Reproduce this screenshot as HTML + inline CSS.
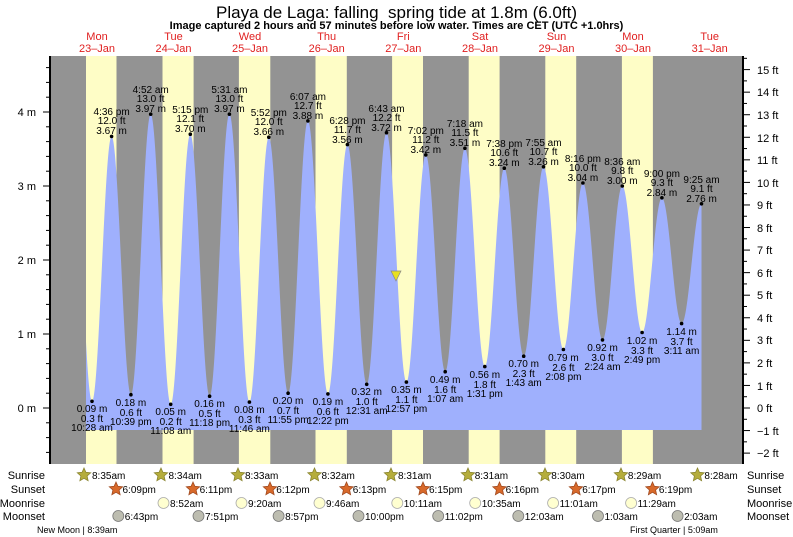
<!DOCTYPE html>
<html><head><meta charset="utf-8"><style>
html,body{margin:0;padding:0;background:#fff;}
svg{display:block;font-family:"Liberation Sans",sans-serif;}
</style></head><body>
<svg id="s" width="793" height="537" viewBox="0 0 793 537" xmlns="http://www.w3.org/2000/svg">
<rect x="0" y="0" width="793" height="537" fill="#fff"/>
<rect x="50" y="56" width="693" height="408" fill="#939393"/>
<g fill="#fefdc6">
<rect x="86" y="56" width="30.5" height="408"/>
<rect x="162.5" y="56" width="31.1" height="408"/>
<rect x="238.9" y="56" width="31.4" height="408"/>
<rect x="315.5" y="56" width="31.3" height="408"/>
<rect x="392.1" y="56" width="30.9" height="408"/>
<rect x="468.7" y="56" width="30.9" height="408"/>
<rect x="545.3" y="56" width="30.9" height="408"/>
<rect x="621.9" y="56" width="31" height="408"/>
</g>
<path id="tide" fill="#9fb0fd" d=""/>
<g id="dots" fill="#000"></g>
<g id="ticks" stroke="#000" stroke-width="1"></g>
<line x1="50" y1="56" x2="50" y2="464" stroke="#000" stroke-width="2"/>
<line x1="743" y1="56" x2="743" y2="464" stroke="#000" stroke-width="2"/>
<polygon points="391,271 401,271 396,281" fill="#e8e020" stroke="#888" stroke-width="0.7"/>

<text x="396.5" y="18" font-size="17" text-anchor="middle" fill="#000" xml:space="preserve" style="white-space:pre">Playa de Laga: falling  spring tide at 1.8m (6.0ft)</text>
<text x="396.5" y="29" font-size="11" font-weight="bold" text-anchor="middle" fill="#000">Image captured 2 hours and 57 minutes before low water. Times are CET (UTC +1.0hrs)</text>

<g font-size="11" fill="#e02020" text-anchor="middle">
<text x="97" y="40">Mon</text><text x="97" y="52">23–Jan</text>
<text x="173.5" y="40">Tue</text><text x="173.5" y="52">24–Jan</text>
<text x="250" y="40">Wed</text><text x="250" y="52">25–Jan</text>
<text x="326.7" y="40">Thu</text><text x="326.7" y="52">26–Jan</text>
<text x="403.3" y="40">Fri</text><text x="403.3" y="52">27–Jan</text>
<text x="480" y="40">Sat</text><text x="480" y="52">28–Jan</text>
<text x="556.5" y="40">Sun</text><text x="556.5" y="52">29–Jan</text>
<text x="633" y="40">Mon</text><text x="633" y="52">30–Jan</text>
<text x="709.7" y="40">Tue</text><text x="709.7" y="52">31–Jan</text>
</g>

<g font-size="11" fill="#000" text-anchor="end">
<text x="36" y="412">0 m</text><text x="36" y="338">1 m</text><text x="36" y="264">2 m</text><text x="36" y="190">3 m</text><text x="36" y="116">4 m</text>
</g>
<g font-size="11" fill="#000" text-anchor="start">
<text x="757" y="457">−2 ft</text><text x="757" y="435">−1 ft</text><text x="757" y="412">0 ft</text>
<text x="757" y="390">1 ft</text><text x="757" y="367">2 ft</text><text x="757" y="344">3 ft</text>
<text x="757" y="322">4 ft</text><text x="757" y="299">5 ft</text><text x="757" y="277">6 ft</text>
<text x="757" y="254">7 ft</text><text x="757" y="232">8 ft</text><text x="757" y="209">9 ft</text>
<text x="757" y="187">10 ft</text><text x="757" y="164">11 ft</text><text x="757" y="142">12 ft</text>
<text x="757" y="119">13 ft</text><text x="757" y="96">14 ft</text><text x="757" y="74">15 ft</text>
</g>

<g font-size="10" fill="#000" text-anchor="middle">
<text x="111.6" y="115">4:36 pm</text><text x="111.6" y="124">12.0 ft</text><text x="111.6" y="134">3.67 m</text>
<text x="150.7" y="93">4:52 am</text><text x="150.7" y="102">13.0 ft</text><text x="150.7" y="112">3.97 m</text>
<text x="190.3" y="113">5:15 pm</text><text x="190.3" y="122">12.1 ft</text><text x="190.3" y="132">3.70 m</text>
<text x="229.4" y="93">5:31 am</text><text x="229.4" y="102">13.0 ft</text><text x="229.4" y="112">3.97 m</text>
<text x="268.8" y="116">5:52 pm</text><text x="268.8" y="125">12.0 ft</text><text x="268.8" y="135">3.66 m</text>
<text x="307.9" y="100">6:07 am</text><text x="307.9" y="109">12.7 ft</text><text x="307.9" y="119">3.88 m</text>
<text x="347.4" y="124">6:28 pm</text><text x="347.4" y="133">11.7 ft</text><text x="347.4" y="143">3.56 m</text>
<text x="386.5" y="112">6:43 am</text><text x="386.5" y="121">12.2 ft</text><text x="386.5" y="131">3.72 m</text>
<text x="425.8" y="134">7:02 pm</text><text x="425.8" y="143">11.2 ft</text><text x="425.8" y="153">3.42 m</text>
<text x="464.9" y="127">7:18 am</text><text x="464.9" y="136">11.5 ft</text><text x="464.9" y="146">3.51 m</text>
<text x="504.3" y="147">7:38 pm</text><text x="504.3" y="156">10.6 ft</text><text x="504.3" y="166">3.24 m</text>
<text x="543.5" y="146">7:55 am</text><text x="543.5" y="155">10.7 ft</text><text x="543.5" y="165">3.26 m</text>
<text x="582.9" y="162">8:16 pm</text><text x="582.9" y="171">10.0 ft</text><text x="582.9" y="181">3.04 m</text>
<text x="622.3" y="165">8:36 am</text><text x="622.3" y="174">9.8 ft</text><text x="622.3" y="184">3.00 m</text>
<text x="661.9" y="177">9:00 pm</text><text x="661.9" y="186">9.3 ft</text><text x="661.9" y="196">2.84 m</text>
<text x="701.5" y="183">9:25 am</text><text x="701.5" y="192">9.1 ft</text><text x="701.5" y="202">2.76 m</text>
<text x="92" y="412">0.09 m</text><text x="92" y="422">0.3 ft</text><text x="92" y="431">10:28 am</text>
<text x="130.9" y="406">0.18 m</text><text x="130.9" y="416">0.6 ft</text><text x="130.9" y="425">10:39 pm</text>
<text x="170.7" y="415">0.05 m</text><text x="170.7" y="425">0.2 ft</text><text x="170.7" y="434">11:08 am</text>
<text x="209.6" y="407">0.16 m</text><text x="209.6" y="417">0.5 ft</text><text x="209.6" y="426">11:18 pm</text>
<text x="249.4" y="413">0.08 m</text><text x="249.4" y="423">0.3 ft</text><text x="249.4" y="432">11:46 am</text>
<text x="288.1" y="404">0.20 m</text><text x="288.1" y="414">0.7 ft</text><text x="288.1" y="423">11:55 pm</text>
<text x="327.9" y="405">0.19 m</text><text x="327.9" y="415">0.6 ft</text><text x="327.9" y="424">12:22 pm</text>
<text x="366.7" y="395">0.32 m</text><text x="366.7" y="405">1.0 ft</text><text x="366.7" y="414">12:31 am</text>
<text x="406.4" y="393">0.35 m</text><text x="406.4" y="403">1.1 ft</text><text x="406.4" y="412">12:57 pm</text>
<text x="445.2" y="383">0.49 m</text><text x="445.2" y="393">1.6 ft</text><text x="445.2" y="402">1:07 am</text>
<text x="484.8" y="378">0.56 m</text><text x="484.8" y="388">1.8 ft</text><text x="484.8" y="397">1:31 pm</text>
<text x="523.7" y="367">0.70 m</text><text x="523.7" y="377">2.3 ft</text><text x="523.7" y="386">1:43 am</text>
<text x="563.4" y="361">0.79 m</text><text x="563.4" y="371">2.6 ft</text><text x="563.4" y="380">2:08 pm</text>
<text x="602.5" y="351">0.92 m</text><text x="602.5" y="361">3.0 ft</text><text x="602.5" y="370">2:24 am</text>
<text x="642.1" y="344">1.02 m</text><text x="642.1" y="354">3.3 ft</text><text x="642.1" y="363">2:49 pm</text>
<text x="681.6" y="335">1.14 m</text><text x="681.6" y="345">3.7 ft</text><text x="681.6" y="354">3:11 am</text>
</g>

<g font-size="11" fill="#000">
<text x="45" y="479" text-anchor="end">Sunrise</text>
<text x="45" y="493" text-anchor="end">Sunset</text>
<text x="45" y="507" text-anchor="end">Moonrise</text>
<text x="45" y="520" text-anchor="end">Moonset</text>
<text x="747" y="479">Sunrise</text>
<text x="747" y="493">Sunset</text>
<text x="747" y="507">Moonrise</text>
<text x="747" y="520">Moonset</text>
</g>
<g id="icons"></g>
<g font-size="10" fill="#000">
<text x="92" y="479">8:35am</text><text x="168.5" y="479">8:34am</text><text x="245" y="479">8:33am</text><text x="321.5" y="479">8:32am</text><text x="398" y="479">8:31am</text><text x="474.7" y="479">8:31am</text><text x="551.3" y="479">8:30am</text><text x="627.9" y="479">8:29am</text><text x="704.4" y="479">8:28am</text>
<text x="122.5" y="493">6:09pm</text><text x="199.6" y="493">6:11pm</text><text x="276.3" y="493">6:12pm</text><text x="352.8" y="493">6:13pm</text><text x="429" y="493">6:15pm</text><text x="505.6" y="493">6:16pm</text><text x="582.2" y="493">6:17pm</text><text x="658.9" y="493">6:19pm</text>
<text x="170" y="507">8:52am</text><text x="248" y="507">9:20am</text><text x="326" y="507">9:46am</text><text x="403.8" y="507">10:11am</text><text x="481.7" y="507">10:35am</text><text x="559.6" y="507">11:01am</text><text x="637.6" y="507">11:29am</text>
<text x="124.8" y="520">6:43pm</text><text x="205" y="520">7:51pm</text><text x="285.1" y="520">8:57pm</text><text x="365" y="520">10:00pm</text><text x="444.7" y="520">11:02pm</text><text x="524.8" y="520">12:03am</text><text x="604.5" y="520">1:03am</text><text x="684.1" y="520">2:03am</text>
</g>
<g font-size="9" fill="#000">
<text x="37" y="533">New Moon | 8:39am</text>
<text x="630" y="533">First Quarter | 5:09am</text>
</g>
</svg>
<script>
(function(){
var NS="http://www.w3.org/2000/svg";
var E=[[72,113],[92,401.3],[111.6,136.4],[130.9,394.7],[150.7,114.2],[170.7,404.3],[190.3,134.2],[209.6,396.2],[229.4,114.2],[249.4,402.1],[268.8,137.2],[288.1,393.2],[307.9,120.9],[327.9,393.9],[347.4,144.6],[366.7,384.3],[386.5,132.7],[406.4,382.1],[425.8,154.9],[445.2,371.7],[464.9,148.3],[484.8,366.6],[504.3,168.2],[523.7,356.2],[543.5,166.8],[563.4,349.5],[582.9,183.0],[602.5,339.9],[622.3,186.0],[642.1,332.5],[661.9,197.8],[681.6,323.6],[701.5,203.8]];
function f(x){for(var i=0;i<E.length-1;i++){var a=E[i],b=E[i+1];if(x>=a[0]&&x<=b[0]){var u=(x-a[0])/(b[0]-a[0]);return a[1]+(b[1]-a[1])*(1-Math.cos(Math.PI*u))/2;}}return E[E.length-1][1];}
var d="M86,430";for(var x=86;x<=701.5;x+=0.5){d+=" L"+x+","+f(x).toFixed(2);}
d+=" L701.5,203.8 L701.5,430 Z";document.getElementById("tide").setAttribute("d",d);
var g=document.getElementById("dots");
for(var i=1;i<E.length;i++){var c=document.createElementNS(NS,"circle");c.setAttribute("cx",E[i][0]);c.setAttribute("cy",E[i][1]);c.setAttribute("r",1.8);g.appendChild(c);}
var t=document.getElementById("ticks");
function L(x1,y1,x2,y2){var l=document.createElementNS(NS,"line");l.setAttribute("x1",x1);l.setAttribute("y1",y1);l.setAttribute("x2",x2);l.setAttribute("y2",y2);t.appendChild(l);}
for(var k=-3;k<=23;k++){var y=408-k*0.2*74;if(y<57||y>463)continue;if(k%5==0)L(43,y,50,y);else L(46,y,50,y);}
for(var k=-5;k<=31;k++){var y=408-k*0.5*22.56;if(y<57||y>463)continue;if(k%2==0)L(743,y,750,y);else L(743,y,747,y);}
var ic=document.getElementById("icons");
function star(cx,cy,fill,stroke){var p=[];for(var j=0;j<10;j++){var r=j%2?3.3:7,a=-Math.PI/2+j*Math.PI/5;p.push((cx+r*Math.cos(a)).toFixed(1)+","+(cy+r*Math.sin(a)).toFixed(1));}var s=document.createElementNS(NS,"polygon");s.setAttribute("points",p.join(" "));s.setAttribute("fill",fill);s.setAttribute("stroke",stroke);s.setAttribute("stroke-width","0.8");ic.appendChild(s);}
function circ(cx,cy,fill,stroke){var c=document.createElementNS(NS,"circle");c.setAttribute("cx",cx);c.setAttribute("cy",cy);c.setAttribute("r",5.5);c.setAttribute("fill",fill);c.setAttribute("stroke",stroke);c.setAttribute("stroke-width","0.8");ic.appendChild(c);}
[84,161,238,314.5,391,468,545,621,697.5].forEach(function(x){star(x,475,"#b5ad3c","#8a8530");});
[116,193,270,346.5,423,499.5,576,652.5].forEach(function(x){star(x,489,"#d8692a","#a04a20");});
[163.5,241.5,319.5,397.3,475.2,553.1,631.1].forEach(function(x){circ(x,503,"#ffffd0","#aaa");});
[118.3,198.5,278.6,358.5,438.2,518.3,598,677.6].forEach(function(x){circ(x,516,"#bdbdb0","#777");});
})();
</script>
</body></html>
